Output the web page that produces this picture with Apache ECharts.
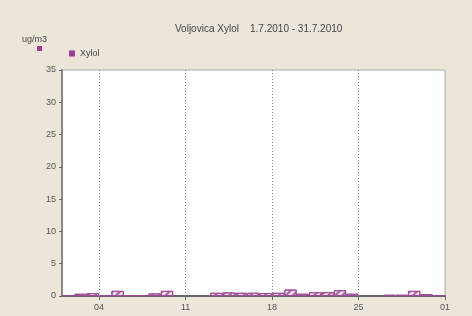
<!DOCTYPE html>
<html><head><meta charset="utf-8">
<script src="https://cdn.jsdelivr.net/npm/echarts@6/dist/echarts.min.js"></script>
<style>html,body{margin:0;padding:0;background:#ece6da;}#c{width:472px;height:316px;}</style>
</head><body><div id="c"></div>
<script>
// Daily values, July 1..31, 2010 (ug/m3); null = no data
const days = [1,2,3,4,5,6,7,8,9,10,11,12,13,14,15,16,17,18,19,20,21,22,23,24,25,26,27,28,29,30,31];
const xylol = [0.15,0.35,0.45,0.1,0.8,0.15,0.15,0.4,0.8,null,null,null,0.5,0.55,0.5,0.5,0.45,0.5,1.0,0.35,0.6,0.6,0.9,0.35,null,null,0.2,0.2,0.8,0.3,0.15];
const tickPos = [3,10,17,24,31];
const tickLabels = ['04','11','18','25','01'];

const chart = echarts.init(document.getElementById('c'));
const labelMap = {};
tickPos.forEach((p,i)=>labelMap[p]=tickLabels[i]);
chart.setOption({
  backgroundColor:'#ece6da',
  animation:false,
  title:{text:'Voljovica Xylol    1.7.2010 - 31.7.2010',left:170,top:19,
    textStyle:{fontSize:10,fontWeight:'normal',color:'#444',fontFamily:'Liberation Sans'}},
  legend:{left:64,top:44,itemWidth:6,itemHeight:6,icon:'rect',itemGap:4,
    textStyle:{fontSize:9,color:'#444',fontFamily:'Liberation Sans'},
    data:[{name:'Xylol',itemStyle:{color:'#9c3d8f',borderWidth:0,decal:'none'}}]},
  graphic:[
    {type:'text',left:22,top:35,style:{text:'ug/m3',fontSize:9,fill:'#444',fontFamily:'Liberation Sans'}},
    {type:'rect',shape:{x:37,y:46,width:5,height:5},style:{fill:'#9c3d8f'}}
  ],
  grid:{left:62,right:27,top:70,bottom:20,show:true,backgroundColor:'#fff',borderColor:'#aaa',borderWidth:1},
  xAxis:{type:'value',min:0,max:31,
    axisLine:{show:true,lineStyle:{color:'#666',width:2}},
    axisTick:{show:true,customValues:tickPos,length:4,lineStyle:{color:'#666'}},
    axisLabel:{customValues:tickPos,formatter:v=>labelMap[v],fontSize:9,color:'#555',fontFamily:'Liberation Sans',margin:7},
    splitLine:{show:false}},
  yAxis:{type:'value',min:0,max:35,interval:5,
    axisLine:{show:true,lineStyle:{color:'#888',width:2}},
    axisTick:{show:true,length:3,lineStyle:{color:'#666'}},
    axisLabel:{fontSize:9,color:'#555',fontFamily:'Liberation Sans',margin:6},
    splitLine:{show:false}},
  series:[{
    name:'Xylol',type:'bar',barWidth:12.4,
    data:days.map((d,i)=>[d-0.5,xylol[i]]),
    itemStyle:{color:'#f2dcef',borderColor:'#9c4f95',borderWidth:1,
      decal:{symbol:'rect',dashArrayX:[1,0],dashArrayY:[1.5,2.5],rotation:-Math.PI/4,color:'#a8609f'}},
    markLine:{silent:true,symbol:'none',label:{show:false},
      lineStyle:{color:'#888',type:[1,2],width:1},
      data:tickPos.slice(0,4).map(p=>({xAxis:p}))}
  }],
  color:['#9c3d8f']
});
</script></body></html>
